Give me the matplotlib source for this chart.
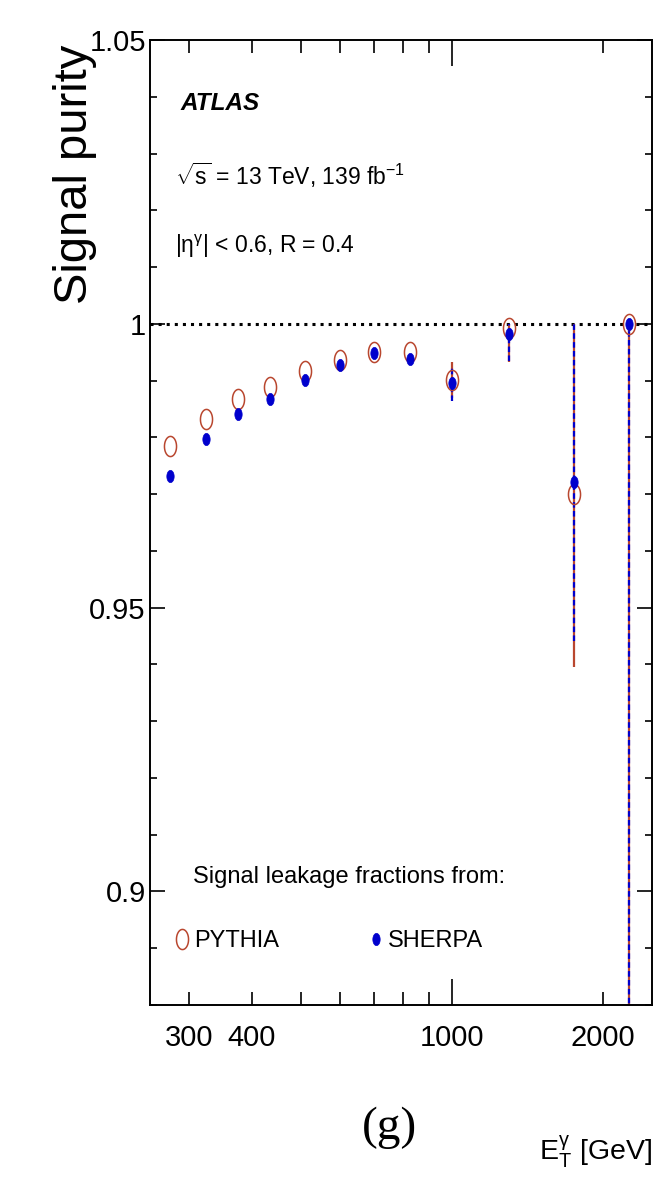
import numpy as np
import matplotlib
matplotlib.use('Agg')
import matplotlib.pyplot as plt
from matplotlib.path import Path
from matplotlib.lines import Line2D

# Photon E_T bin centres [GeV] and purities
et_centres = [275, 325, 375, 435, 510, 600, 700, 825, 1000, 1300, 1750, 2250]
purity_pythia = [0.9784, 0.9832, 0.9867, 0.9889, 0.9917, 0.9937, 0.9951, 0.9951, 0.9901, 0.9993, 0.9701, 1.0]
purity_sherpa = [0.9732, 0.9797, 0.9842, 0.9867, 0.9901, 0.9927, 0.9948, 0.9938, 0.9895, 0.9982, 0.9721, 1.0]
pythia_err_lo = [0, 0, 0, 0, 0, 0, 0, 0, 0.0031, 0.006, 0.0306, 0.2]
pythia_err_hi = [0, 0, 0, 0, 0, 0, 0, 0, 0.0031, 0.0007, 0.0299, 0.0]
sherpa_err_lo = [0, 0, 0, 0, 0, 0, 0, 0, 0.0031, 0.0047, 0.0279, 0.2]
sherpa_err_hi = [0, 0, 0, 0, 0, 0, 0, 0, 0.0031, 0.0018, 0.0279, 0.0]
reference_level = 1.0

xtick_major = [1000]
xtick_minor = [300, 400, 500, 600, 700, 800, 900, 2000]
xtick_minor_labels = ['300', '400', '', '', '', '', '', '2000']
ytick_major = [0.9, 0.95, 1.0, 1.05]
ytick_labels = ['0.9', '0.95', '1', '1.05']

pythia_col = '#b9472f'
sherpa_col = '#0000cd'

plt.rcParams['font.family'] = ['Liberation Sans', 'DejaVu Sans']
plt.rcParams['mathtext.fontset'] = 'custom'
plt.rcParams['mathtext.rm'] = 'Liberation Sans'
plt.rcParams['mathtext.it'] = 'Liberation Sans:italic'
plt.rcParams['mathtext.bf'] = 'Liberation Sans:bold'

# tall ellipse marker (the picture is stretched vertically)
t = np.linspace(0, 2 * np.pi, 60)
ellipse = Path(np.column_stack([0.6 * np.cos(t), np.sin(t)]), closed=True)

fig = plt.figure(figsize=(6.58, 11.89), dpi=100)
ax = fig.add_axes([150 / 658, 1 - 1005 / 1189, 502 / 658, 965 / 1189])
ax.set_xscale('log')
ax.set_xlim(251, 2500)
ax.set_ylim(0.88, 1.05)

ax.axhline(reference_level, color='black', ls=':', lw=2.2, zorder=1)

eb_p = ax.errorbar(et_centres, purity_pythia, yerr=[pythia_err_lo, pythia_err_hi],
                   fmt='none', ecolor=pythia_col, elinewidth=1.6, capsize=0, zorder=2)
eb_s = ax.errorbar(et_centres, purity_sherpa, yerr=[sherpa_err_lo, sherpa_err_hi],
                   fmt='none', ecolor=sherpa_col, elinewidth=1.6, capsize=0, zorder=3)
eb_s[2][0].set_linestyle((0, (2.5, 1.5)))

ax.plot(et_centres, purity_pythia, ls='none', marker=ellipse, markersize=14.5,
        mfc='none', mec=pythia_col, mew=1.1, zorder=4)
ax.plot(et_centres, purity_sherpa, ls='none', marker=ellipse, markersize=8.8,
        mfc=sherpa_col, mec=sherpa_col, mew=0.5, zorder=5)

# ticks
ax.set_xticks(xtick_major)
ax.set_xticklabels([str(v) for v in xtick_major])
ax.set_xticks(xtick_minor, minor=True)
ax.set_xticklabels(xtick_minor_labels, minor=True)
ax.set_yticks(ytick_major)
ax.set_yticklabels(ytick_labels)
ax.set_yticks(np.arange(0.88, 1.0501, 0.01), minor=True)
ax.tick_params(axis='both', which='both', direction='in', top=True, right=True,
               labelsize=21, width=1.2)
ax.tick_params(axis='x', which='major', length=19, pad=14)
ax.tick_params(axis='x', which='minor', length=9.5, pad=14)
ax.tick_params(axis='y', which='major', length=11, pad=3)
ax.tick_params(axis='y', which='minor', length=5)
for s in ax.spines.values():
    s.set_linewidth(1.4)

ax.set_ylabel('Signal purity', fontsize=34, loc='top')
ax.yaxis.set_label_coords(-0.105, 0.995)
ax.set_xlabel(r'$\mathrm{E}_{\mathrm{T}}^{\mathrm{\gamma}}$ [GeV]', fontsize=20.5, loc='right')
ax.xaxis.set_label_coords(1.0, -0.133)

ax.text(0.06, 0.9275, 'ATLAS', transform=ax.transAxes, fontsize=17.5,
        fontweight='bold', fontstyle='italic', va='baseline')
ax.text(0.05, 0.8497, r'$\sqrt{\mathrm{s}}$ = 13 TeV, 139 fb$^{-1}$', transform=ax.transAxes,
        fontsize=16.5, va='baseline')
ax.text(0.05, 0.7793, r'$|\mathrm{\eta}^{\mathrm{\gamma}}|$ < 0.6, R = 0.4', transform=ax.transAxes,
        fontsize=16.5, va='baseline')
ax.text(0.0857, 0.1264, 'Signal leakage fractions from:', transform=ax.transAxes,
        fontsize=17, va='baseline')

handles = [Line2D([], [], ls='none', marker=ellipse, markersize=14.5, mfc='none',
                  mec=pythia_col, mew=1.1),
           Line2D([], [], ls='none', marker=ellipse, markersize=8.8, mfc=sherpa_col,
                  mec=sherpa_col, mew=0.5)]
ax.legend(handles, ['PYTHIA', 'SHERPA'], ncol=2, loc='center left',
          bbox_to_anchor=(0.052, 0.066), frameon=False, fontsize=17,
          handlelength=0.5, handletextpad=0.25, columnspacing=3.85,
          borderpad=0, borderaxespad=0)

fig.text(390 / 658, 1 - 1128 / 1189, '(g)', family='Liberation Serif', fontsize=34,
         ha='center', va='center')

fig.savefig('out.png', dpi=100)
